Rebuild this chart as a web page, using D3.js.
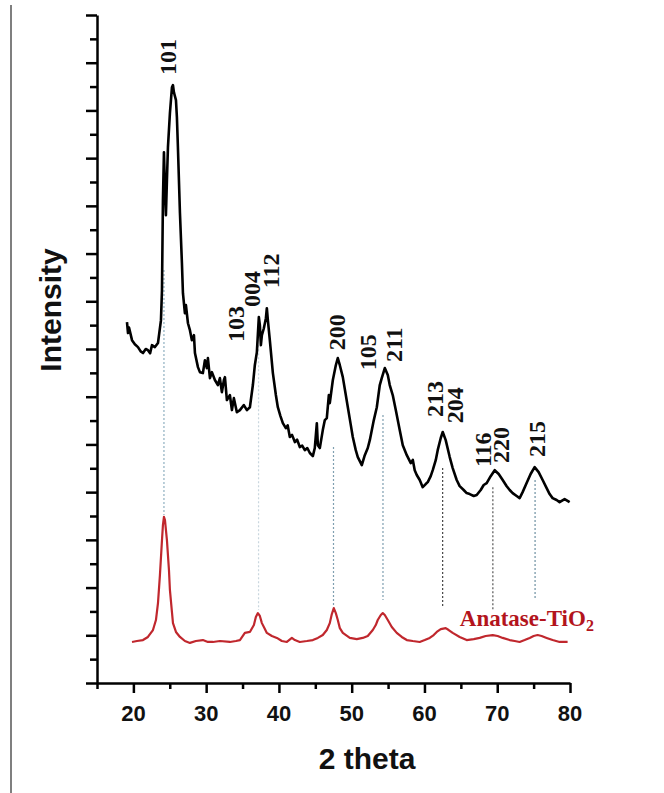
<!DOCTYPE html>
<head>
    <meta charset='utf-8'>
    <style>
        body {
            margin: 0;
            background: #fff;
        }
        .tick-label {
            font-family: 'Liberation Sans', Arial, sans-serif;
            font-weight: bold;
            font-size: 22px;
            fill: #111;
        }
        .axis-title {
            font-family: 'Liberation Sans', Arial, sans-serif;
            font-weight: bold;
            font-size: 30px;
            fill: #111;
        }
        .peak {
            font-family: 'Liberation Serif', 'Times New Roman', serif;
            font-weight: bold;
            font-size: 24px;
            fill: #111;
        }
    </style>
</head>

<body>
<div id='vis'></div>
<script src='https://cdn.jsdelivr.net/npm/d3@7/dist/d3.min.js'></script>
<script>
  // sample (black) pattern: [2theta, intensity]
  const sample = [
    [19.12,1513],[19.26,1467],[19.40,1490],[19.81,1437],[20.20,1420],[20.63,1408],[21.00,1390],[21.32,1383],
    [21.70,1400],[22.00,1395],[22.30,1382],[22.55,1416],[22.96,1408],[23.38,1425],[23.79,1521],
    [23.93,1647],[24.06,2024],[24.20,2225],[24.34,2066],[24.47,1961],[24.61,2108],[24.75,2246],
    [25.02,2388],[25.30,2497],[25.44,2506],[25.57,2476],[25.85,2443],[25.98,2372],[26.12,2246],
    [26.40,1969],[26.67,1760],[26.81,1634],[27.08,1550],[27.22,1584],[27.50,1508],[27.77,1479],
    [28.04,1437],[28.32,1458],[28.46,1383],[28.87,1324],[29.14,1303],[29.55,1299],[29.83,1353],
    [30.10,1320],[30.24,1362],[30.52,1278],[30.79,1303],[31.20,1270],[31.61,1249],[31.89,1278],
    [32.16,1219],[32.44,1270],[32.58,1282],[32.85,1186],[33.26,1207],[33.54,1144],[33.81,1194],
    [34.22,1135],[34.64,1144],[35.18,1165],[35.60,1144],[36.01,1156],[36.42,1249],[36.69,1332],
    [36.97,1387],[37.24,1534],[37.38,1500],[37.52,1416],[37.66,1458],[37.93,1487],[38.21,1529],
    [38.34,1571],[38.48,1521],[38.75,1437],[39.17,1299],[39.58,1207],[39.85,1156],[40.20,1120],
    [40.54,1089],[40.95,1068],[41.20,1080],[41.50,1031],[41.80,1040],[42.19,1010],[42.50,1020],
    [42.87,989],[43.20,995],[43.56,976],[43.90,985],[44.25,964],[44.66,951],[44.93,985],
    [45.21,1089],[45.35,997],[45.62,985],[46.03,1060],[46.31,1102],[46.58,1110],[46.86,1207],
    [46.99,1173],[47.41,1270],[47.82,1332],[48.09,1362],[48.37,1332],[48.78,1282],[49.19,1207],
    [49.47,1156],[49.88,1081],[50.15,1031],[50.56,976],[50.84,947],[51.39,913],[51.80,955],
    [52.21,985],[52.49,1018],[53.04,1102],[53.45,1156],[53.86,1249],[54.13,1278],[54.55,1320],
    [54.96,1291],[55.23,1249],[55.64,1207],[56.06,1144],[56.60,1060],[57.02,997],[57.57,955],
    [58.12,922],[58.40,935],[58.66,892],[58.94,872],[59.35,851],[59.76,821],[60.17,834],
    [60.45,842],[60.86,867],[61.14,892],[61.55,934],[61.82,976],[62.24,1027],[62.51,1052],
    [62.92,1018],[63.47,947],[63.88,901],[64.43,851],[64.84,825],[65.39,809],[65.80,796],
    [66.22,792],[66.77,784],[67.18,788],[67.73,809],[68.14,830],[68.55,838],[69.10,867],
    [69.65,892],[70.20,876],[70.75,851],[71.30,825],[71.71,809],[72.12,796],[72.67,784],
    [73.08,775],[73.49,800],[74.04,838],[74.59,876],[75.14,905],[75.69,884],[76.24,851],
    [76.79,817],[77.20,792],[77.61,775],[78.16,767],[78.57,758],[79.26,771],[79.95,758]
  ]

  // reference anatase pattern (red)
  const anatase = [
    [19.81,172],[20.49,176],[21.32,180],[22.00,193],[22.69,222],[23.10,264],[23.38,335],
    [23.65,453],[23.93,599],[24.06,662],[24.20,696],[24.34,683],[24.61,599],[24.89,473],
    [25.02,390],[25.30,297],[25.44,251],[25.85,214],[26.40,193],[27.08,176],[27.77,168],
    [28.59,176],[29.55,180],[30.24,172],[30.93,172],[31.89,176],[33.26,172],[34.09,176],
    [34.64,180],[35.32,210],[36.01,214],[36.56,243],[36.83,277],[37.11,293],[37.38,281],
    [37.66,251],[38.07,226],[38.34,210],[39.03,197],[39.72,189],[40.40,176],[41.09,172],
    [41.78,189],[42.19,180],[42.87,172],[43.84,176],[44.66,180],[45.35,189],[46.03,201],
    [46.58,222],[46.99,251],[47.27,289],[47.54,314],[47.82,293],[48.09,264],[48.37,230],
    [48.78,210],[49.74,189],[50.70,184],[51.52,189],[52.21,197],[52.90,222],[53.31,243],
    [53.58,264],[54.00,285],[54.27,293],[54.55,285],[54.96,264],[55.51,235],[56.19,210],
    [56.88,193],[57.57,180],[58.39,176],[59.35,172],[60.04,180],[60.72,189],[61.27,201],
    [61.69,214],[62.24,226],[62.92,230],[63.33,222],[63.88,210],[64.84,193],[65.80,180],
    [66.77,184],[67.59,189],[68.41,197],[69.38,201],[70.06,197],[70.75,189],[71.71,180],
    [72.40,176],[73.08,172],[73.77,180],[74.46,189],[75.00,197],[75.55,201],[76.10,197],
    [76.79,189],[77.61,180],[78.57,172],[79.67,172]
  ]

  // peak labels: hkl, 2theta, intensity at bottom of label
  const peakNames = ['101', '103', '004', '112', '200', '105', '211', '213', '204', '116', '220', '215']
  const peakPos   = [24.75, 34.09, 36.28, 38.89, 47.96, 52.21, 55.78, 61.41, 64.16, 68.0, 70.47, 75.42]
  const peakBase  = [2548, 1429, 1576, 1655, 1395, 1311, 1345, 1115, 1089, 905, 922, 947]

  // dotted drop lines: 2theta, from, to
  const dropPos  = [24.2, 37.2, 47.5, 54.3, 62.5, 69.4, 75.2]
  const dropTop  = [1731, 1416, 989, 1123, 901, 821, 851]
  const dropBot  = [704, 306, 327, 348, 318, 306, 348]
  const dropCol  = ['#8fb0c0', '#c9d6de', '#7f9fb0', '#7f9fb0', '#444', '#555', '#6d90a2']

  const xTicks = [20, 30, 40, 50, 60, 70, 80]

  const W = 664, H = 793
  const svg = d3.select('#vis')
    .append('svg')
    .attr('width', W)
    .attr('height', H)

  const x = d3.scaleLinear().domain([15, 80]).range([97, 570])
  const y = d3.scaleLinear().domain([0, 2800]).range([683, 15])

  // page border line at left
  svg.append('line')
    .attr('x1', 11).attr('x2', 11).attr('y1', 5).attr('y2', H)
    .attr('stroke', '#555').attr('stroke-width', 1.5)

  // drop lines
  svg.append('g').selectAll('line')
    .data(dropPos)
    .join('line')
    .attr('x1', d => x(d)).attr('x2', d => x(d))
    .attr('y1', (d, i) => y(dropTop[i]))
    .attr('y2', (d, i) => y(dropBot[i]))
    .attr('stroke', (d, i) => dropCol[i])
    .attr('stroke-width', 1.2)
    .attr('stroke-dasharray', '2,2')

  const line = d3.line().x(d => x(d[0])).y(d => y(d[1]))

  svg.append('path')
    .datum(anatase)
    .attr('d', line)
    .attr('fill', 'none')
    .attr('stroke', '#c0272d')
    .attr('stroke-width', 2.2)
    .attr('stroke-linejoin', 'round')

  svg.append('path')
    .datum(sample)
    .attr('d', line)
    .attr('fill', 'none')
    .attr('stroke', '#000')
    .attr('stroke-width', 2.6)
    .attr('stroke-linejoin', 'round')

  // y axis: long ticks every 200, short in between
  const yMinor = d3.range(100, 2800, 200)
  const yMajor = d3.range(0, 2801, 200)
  const gy = svg.append('g').attr('transform', 'translate(97,0)')
  gy.call(d3.axisLeft(y).tickValues(yMajor).tickSize(11).tickSizeOuter(0).tickFormat(''))
  gy.append('g').call(d3.axisLeft(y).tickValues(yMinor).tickSize(7).tickSizeOuter(0).tickFormat(''))
    .select('.domain').remove()

  // x axis
  const xMinor = d3.range(15, 80, 10)
  const gx = svg.append('g').attr('transform', 'translate(0,683)')
  gx.call(d3.axisBottom(x).tickValues(xTicks).tickSize(10).tickSizeOuter(0).tickFormat(''))
  gx.append('g').call(d3.axisBottom(x).tickValues(xMinor).tickSize(6).tickSizeOuter(0).tickFormat(''))
    .select('.domain').remove()

  svg.selectAll('.domain, .tick line')
    .attr('stroke', '#000')
    .attr('stroke-width', 2.5)

  svg.append('g').selectAll('text')
    .data(xTicks)
    .join('text')
    .attr('class', 'tick-label')
    .attr('x', d => x(d))
    .attr('y', 721)
    .attr('text-anchor', 'middle')
    .text(d => d)

  svg.append('text')
    .attr('class', 'axis-title')
    .attr('x', 367).attr('y', 769)
    .attr('text-anchor', 'middle')
    .text('2 theta')

  svg.append('text')
    .attr('class', 'axis-title')
    .attr('transform', 'translate(61,310) rotate(-90)')
    .attr('text-anchor', 'middle')
    .text('Intensity')

  // hkl labels
  svg.append('g').selectAll('text')
    .data(peakNames)
    .join('text')
    .attr('class', 'peak')
    .attr('transform', (d, i) => `translate(${x(peakPos[i])},${y(peakBase[i])}) rotate(-90)`)
    .attr('dy', '0.34em')
    .text(d => d)

  const lbl = svg.append('text')
    .attr('x', x(64.86)).attr('y', y(239))
    .attr('font-family', "'Liberation Serif', 'Times New Roman', serif")
    .attr('font-weight', 'bold')
    .attr('font-size', 23)
    .attr('fill', '#b3141c')
  lbl.append('tspan').text('Anatase-TiO')
  lbl.append('tspan').attr('font-size', 16).attr('dy', 5).text('2')

</script>
</body>
